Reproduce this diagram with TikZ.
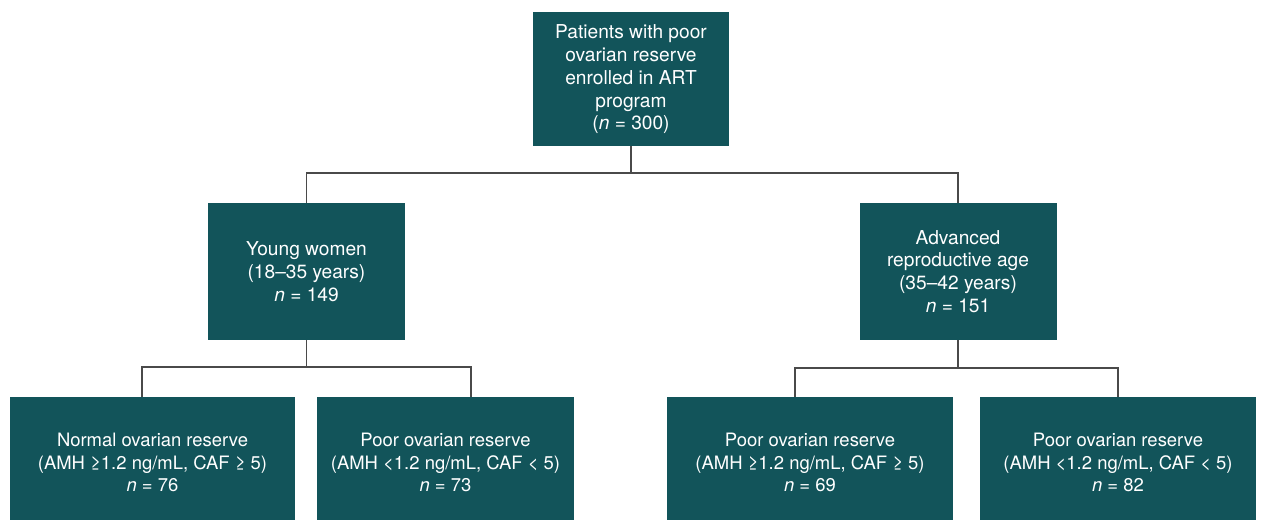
\documentclass[tikz,border=0pt]{standalone}
\usepackage{fontspec}
\setmainfont{TeX Gyre Heros}
\definecolor{teal}{HTML}{12545A}
\definecolor{connector}{HTML}{4A4A4A}
\begin{document}
\begin{tikzpicture}[
        box/.style={fill=teal, text=white, align=center, inner sep=2pt,
            font=\fontsize{10.9}{13}\selectfont},
        leaf/.style={box, minimum height=2.62cm,
            font=\fontsize{10.5}{12.8}\selectfont},
        link/.style={draw=connector, line width=0.6pt}
    ]
        \useasboundingbox (0,0) rectangle (25.22,-10.4);

        \node[box, minimum width=3.92cm, minimum height=2.68cm, text depth=2pt] (all) at (12.62,-1.58)
            {Patients with poor\\ovarian reserve\\enrolled in ART\\program\\(\textit{n} = 300)};

        \node[box, minimum width=3.94cm, minimum height=2.74cm] (young) at (6.13,-5.43)
            {Young women\\(18–35 years)\\\textit{n} = 149};
        \node[box, minimum width=3.94cm, minimum height=2.74cm] (older) at (19.16,-5.43)
            {Advanced\\reproductive age\\(35–42 years)\\\textit{n} = 151};

        \node[leaf, minimum width=5.7cm] (ynormal) at (3.05,-9.25)
            {Normal ovarian reserve\\(AMH ≥1.2 ng/mL, CAF ≥ 5)\\\textit{n} = 76};
        \node[leaf, minimum width=5.14cm] (ypoor) at (8.91,-9.25)
            {Poor ovarian reserve\\(AMH <1.2 ng/mL, CAF < 5)\\\textit{n} = 73};
        \node[leaf, minimum width=5.72cm] (onormal) at (16.2,-9.25)
            {Poor ovarian reserve\\(AMH ≥1.2 ng/mL, CAF ≥ 5)\\\textit{n} = 69};
        \node[leaf, minimum width=5.52cm] (opoor) at (22.36,-9.25)
            {Poor ovarian reserve\\(AMH <1.2 ng/mL, CAF < 5)\\\textit{n} = 82};

        % branching points
        \coordinate (split0) at (12.62,-3.46);
        \coordinate (split1) at (6.13,-7.34);
        \coordinate (split2) at (19.16,-7.36);
        \coordinate (drop1) at (2.84,0);
        \coordinate (drop2) at (9.42,0);
        \coordinate (drop3) at (15.9,0);
        \coordinate (drop4) at (22.36,0);

        \draw[link] (all.south) -- (split0) -| (young.north);
        \draw[link] (split0) -| (older.north);

        \draw[link] (young.south) -- (split1) -| (drop1 |- ynormal.north);
        \draw[link] (split1) -| (drop2 |- ypoor.north);
        \draw[link] (older.south) -- (split2) -| (drop3 |- onormal.north);
        \draw[link] (split2) -| (drop4 |- opoor.north);
    \end{tikzpicture}
\end{document}
